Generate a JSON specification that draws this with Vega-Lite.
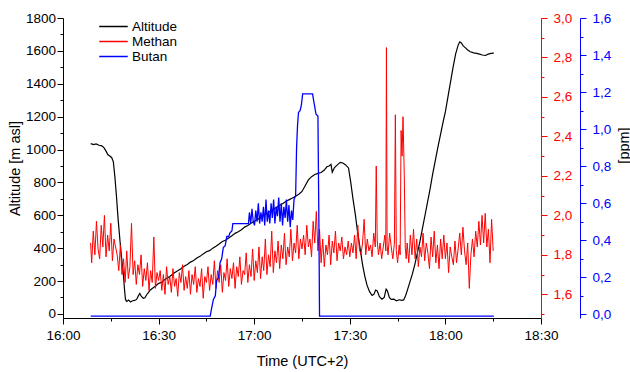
{
"$schema":"https://vega.github.io/schema/vega-lite/v6.json",
"width":478,"height":300,"autosize":"none",
"padding":{"left":63,"top":18,"right":89,"bottom":54},
"background":"white",
"config":{"font":"Liberation Sans","view":{"stroke":null},
 "axis":{"grid":false,"domainColor":"#000","tickColor":"#000","labelColor":"#000","titleColor":"#000","labelFontSize":13.5,"titleFontSize":14.5,"titleFontWeight":"normal","domainWidth":1,"tickWidth":1,"labelFlush":false,"labelOverlap":false}},
"encoding":{"x":{"field":"t","type":"temporal",
 "scale":{"domain":[{"year":1900,"month":1,"date":1,"hours":16,"minutes":0},{"year":1900,"month":1,"date":1,"hours":18,"minutes":30}]},
 "axis":{"title":"Time (UTC+2)","labelPadding":4,"titlePadding":13,
  "values":[{"year":1900,"month":1,"date":1,"hours":16,"minutes":0},{"year":1900,"month":1,"date":1,"hours":16,"minutes":15},{"year":1900,"month":1,"date":1,"hours":16,"minutes":30},{"year":1900,"month":1,"date":1,"hours":16,"minutes":45},{"year":1900,"month":1,"date":1,"hours":17,"minutes":0},{"year":1900,"month":1,"date":1,"hours":17,"minutes":15},{"year":1900,"month":1,"date":1,"hours":17,"minutes":30},{"year":1900,"month":1,"date":1,"hours":17,"minutes":45},{"year":1900,"month":1,"date":1,"hours":18,"minutes":0},{"year":1900,"month":1,"date":1,"hours":18,"minutes":15},{"year":1900,"month":1,"date":1,"hours":18,"minutes":30}],
  "labelExpr":"minutes(datum.value) % 30 == 0 ? timeFormat(datum.value, '%H:%M') : ''",
  "tickSize":{"condition":{"test":"minutes(datum.value) % 30 == 0","value":6},"value":3}}}},
"layer":[
{"data":{"values":[
{"t":"16:08:42","v":1036},{"t":"16:09:36","v":1030},{"t":"16:10:24","v":1034},{"t":"16:11:18","v":1026},{"t":"16:12:12","v":1022},{"t":"16:12:54","v":1010},{"t":"16:13:30","v":990},{"t":"16:14:06","v":968},{"t":"16:14:42","v":960},{"t":"16:15:18","v":950},{"t":"16:15:48","v":925},{"t":"16:16:18","v":830},{"t":"16:16:48","v":710},{"t":"16:17:18","v":575},{"t":"16:17:54","v":440},{"t":"16:18:24","v":340},{"t":"16:18:54","v":250},{"t":"16:19:18","v":150},{"t":"16:19:36","v":88},{"t":"16:20:00","v":76},{"t":"16:20:36","v":84},{"t":"16:21:12","v":72},{"t":"16:21:48","v":80},{"t":"16:22:30","v":82},{"t":"16:23:06","v":88},{"t":"16:23:36","v":108},{"t":"16:24:06","v":124},{"t":"16:24:36","v":106},{"t":"16:25:12","v":95},{"t":"16:25:42","v":98},{"t":"16:26:18","v":118},{"t":"16:26:48","v":130},{"t":"16:27:18","v":144},{"t":"16:28:12","v":158},{"t":"16:29:06","v":170},
{"t":"16:30:00","v":186},{"t":"16:31:00","v":192},{"t":"16:32:00","v":210},{"t":"16:33:00","v":222},{"t":"16:34:00","v":235},{"t":"16:35:00","v":250},{"t":"16:36:00","v":262},{"t":"16:37:00","v":275},{"t":"16:38:00","v":290},{"t":"16:39:00","v":300},{"t":"16:40:00","v":315},{"t":"16:41:00","v":325},{"t":"16:42:00","v":340},{"t":"16:43:00","v":350},{"t":"16:44:00","v":365},{"t":"16:45:00","v":378},{"t":"16:46:00","v":385},{"t":"16:47:00","v":400},{"t":"16:48:00","v":412},{"t":"16:49:00","v":425},{"t":"16:50:00","v":440},{"t":"16:51:00","v":448},{"t":"16:52:00","v":462},{"t":"16:53:00","v":475},{"t":"16:54:00","v":490},{"t":"16:55:00","v":500},{"t":"16:56:00","v":512},{"t":"16:57:00","v":528},{"t":"16:58:00","v":538},{"t":"16:59:00","v":552},{"t":"17:00:00","v":562},{"t":"17:01:00","v":575},{"t":"17:02:00","v":585},{"t":"17:03:00","v":600},{"t":"17:04:00","v":610},{"t":"17:05:00","v":625},{"t":"17:06:00","v":635},{"t":"17:07:00","v":648},{"t":"17:08:00","v":660},{"t":"17:09:00","v":672},{"t":"17:10:00","v":685},{"t":"17:11:00","v":695},{"t":"17:12:00","v":705},{"t":"17:13:00","v":715},{"t":"17:14:00","v":728},{"t":"17:15:00","v":745},{"t":"17:16:00","v":780},{"t":"17:17:00","v":815},{"t":"17:18:00","v":835},{"t":"17:19:00","v":848},{"t":"17:20:00","v":855},{"t":"17:21:00","v":860},{"t":"17:22:00","v":875},
{"t":"17:22:48","v":895},{"t":"17:23:30","v":900},{"t":"17:24:06","v":910},{"t":"17:24:30","v":862},{"t":"17:25:12","v":890},{"t":"17:26:00","v":905},{"t":"17:27:00","v":922},{"t":"17:27:48","v":918},{"t":"17:28:36","v":908},{"t":"17:29:36","v":888},{"t":"17:30:18","v":800},{"t":"17:31:00","v":700},{"t":"17:31:42","v":610},{"t":"17:32:30","v":490},{"t":"17:33:18","v":390},{"t":"17:34:00","v":300},{"t":"17:34:42","v":230},{"t":"17:35:24","v":175},{"t":"17:36:12","v":135},{"t":"17:37:00","v":112},{"t":"17:37:36","v":120},{"t":"17:38:06","v":145},{"t":"17:38:36","v":140},{"t":"17:39:18","v":105},{"t":"17:40:06","v":90},{"t":"17:40:48","v":100},{"t":"17:41:24","v":150},{"t":"17:41:48","v":140},{"t":"17:42:24","v":100},{"t":"17:43:00","v":88},{"t":"17:43:48","v":90},{"t":"17:44:36","v":80},{"t":"17:45:30","v":86},{"t":"17:46:18","v":82},{"t":"17:46:54","v":85},{"t":"17:47:30","v":110},{"t":"17:48:00","v":140},{"t":"17:48:48","v":190},{"t":"17:49:36","v":240},{"t":"17:50:24","v":300},{"t":"17:51:12","v":370},{"t":"17:52:00","v":440},{"t":"17:52:48","v":520},{"t":"17:53:36","v":600},{"t":"17:54:24","v":680},{"t":"17:55:12","v":760},{"t":"17:56:00","v":850},{"t":"17:56:48","v":930},{"t":"17:57:36","v":1010},{"t":"17:58:24","v":1085},{"t":"17:59:12","v":1160},{"t":"18:00:00","v":1230},{"t":"18:00:48","v":1320},{"t":"18:01:36","v":1410},{"t":"18:02:24","v":1500},{"t":"18:03:12","v":1580},{"t":"18:04:00","v":1635},{"t":"18:04:30","v":1655},{"t":"18:05:00","v":1648},{"t":"18:05:36","v":1630},{"t":"18:06:18","v":1618},{"t":"18:07:00","v":1605},{"t":"18:07:48","v":1595},{"t":"18:08:54","v":1588},{"t":"18:09:48","v":1585},{"t":"18:10:42","v":1580},{"t":"18:11:36","v":1575},{"t":"18:12:36","v":1572},{"t":"18:13:24","v":1580},{"t":"18:14:18","v":1585},{"t":"18:15:12","v":1586}
],"format":{"parse":{"t":"date:'%H:%M:%S'"}}},
"mark":{"type":"line","strokeWidth":1.2},
"encoding":{
 "y":{"field":"v","type":"quantitative","scale":{"domain":[-25,1800],"nice":false,"zero":false},
  "axis":{"orient":"left","title":"Altitude [m asl]","labelPadding":1.5,"titlePadding":3,
   "values":[0,100,200,300,400,500,600,700,800,900,1000,1100,1200,1300,1400,1500,1600,1700,1800],
   "labelExpr":"datum.value % 200 == 0 ? '' + datum.value : ''",
   "tickSize":{"condition":{"test":"datum.value % 200 == 0","value":6},"value":3}}},
 "color":{"datum":"Altitude","type":"nominal","scale":{"domain":["Altitude","Methan","Butan"],"range":["#000000","#ff0000","#0000ff"]},
  "legend":{"orient":"none","legendX":42,"legendY":0,"title":null,"symbolType":"M-1.9,0H1.9","symbolSize":225,"symbolStrokeWidth":1.5,"labelFontSize":13.5,"labelColor":"#000","rowPadding":0,"labelOffset":10}}}},
{"data":{"values":[
{"t":"16:08:40","v":1.86},{"t":"16:09:00","v":1.76},{"t":"16:09:30","v":1.92},{"t":"16:10:00","v":1.80},{"t":"16:10:30","v":1.97},{"t":"16:11:00","v":1.83},{"t":"16:11:30","v":1.78},{"t":"16:12:00","v":1.95},{"t":"16:12:30","v":1.84},{"t":"16:13:00","v":2.00},{"t":"16:13:30","v":1.79},{"t":"16:14:00","v":1.90},{"t":"16:14:30","v":1.82},{"t":"16:15:00","v":1.96},{"t":"16:15:30","v":1.77},{"t":"16:16:00","v":1.88},{"t":"16:16:30","v":1.84},
{"t":"16:17:00","v":1.80},{"t":"16:17:30","v":1.72},{"t":"16:18:00","v":1.85},{"t":"16:18:30","v":1.70},{"t":"16:19:00","v":1.78},{"t":"16:19:30","v":1.66},{"t":"16:20:00","v":1.82},{"t":"16:20:30","v":1.68},{"t":"16:21:00","v":1.74},{"t":"16:21:30","v":1.96},{"t":"16:22:00","v":1.70},{"t":"16:22:30","v":1.77},{"t":"16:23:00","v":1.65},{"t":"16:23:30","v":1.75},{"t":"16:24:00","v":1.70},{"t":"16:24:30","v":1.80},{"t":"16:25:00","v":1.64},{"t":"16:25:30","v":1.73},{"t":"16:26:00","v":1.67},{"t":"16:26:30","v":1.76},{"t":"16:27:00","v":1.62},{"t":"16:27:30","v":1.72},{"t":"16:28:00","v":1.66},{"t":"16:28:30","v":1.89},{"t":"16:29:00","v":1.63},{"t":"16:29:30","v":1.71},{"t":"16:30:00","v":1.67},
{"t":"16:30:30","v":1.72},{"t":"16:31:00","v":1.62},{"t":"16:31:30","v":1.70},{"t":"16:32:00","v":1.60},{"t":"16:32:30","v":1.74},{"t":"16:33:00","v":1.65},{"t":"16:33:30","v":1.69},{"t":"16:34:00","v":1.61},{"t":"16:34:30","v":1.73},{"t":"16:35:00","v":1.64},{"t":"16:35:30","v":1.68},{"t":"16:36:00","v":1.59},{"t":"16:36:30","v":1.71},{"t":"16:37:00","v":1.66},{"t":"16:37:30","v":1.75},{"t":"16:38:00","v":1.62},{"t":"16:38:30","v":1.69},{"t":"16:39:00","v":1.63},{"t":"16:39:30","v":1.72},{"t":"16:40:00","v":1.60},{"t":"16:40:30","v":1.70},{"t":"16:41:00","v":1.65},{"t":"16:41:30","v":1.74},{"t":"16:42:00","v":1.61},{"t":"16:42:30","v":1.68},{"t":"16:43:00","v":1.64},{"t":"16:43:30","v":1.73},{"t":"16:44:00","v":1.58},{"t":"16:44:30","v":1.69},{"t":"16:45:00","v":1.66},
{"t":"16:45:30","v":1.74},{"t":"16:46:00","v":1.62},{"t":"16:46:30","v":1.70},{"t":"16:47:00","v":1.65},{"t":"16:47:30","v":1.77},{"t":"16:48:00","v":1.63},{"t":"16:48:30","v":1.72},{"t":"16:49:00","v":1.66},{"t":"16:49:30","v":1.75},{"t":"16:50:00","v":1.61},
{"t":"16:50:30","v":1.71},{"t":"16:51:00","v":1.67},{"t":"16:51:30","v":1.78},{"t":"16:52:00","v":1.64},{"t":"16:52:30","v":1.73},{"t":"16:53:00","v":1.68},{"t":"16:53:30","v":1.76},{"t":"16:54:00","v":1.63},{"t":"16:54:30","v":1.74},{"t":"16:55:00","v":1.69},
{"t":"16:55:30","v":1.79},{"t":"16:56:00","v":1.65},{"t":"16:56:30","v":1.72},{"t":"16:57:00","v":1.70},{"t":"16:57:30","v":1.81},{"t":"16:58:00","v":1.66},{"t":"16:58:30","v":1.75},{"t":"16:59:00","v":1.69},{"t":"16:59:30","v":1.83},{"t":"17:00:00","v":1.67},
{"t":"17:00:30","v":1.77},{"t":"17:01:00","v":1.71},{"t":"17:01:30","v":1.84},{"t":"17:02:00","v":1.68},{"t":"17:02:30","v":1.79},{"t":"17:03:00","v":1.72},{"t":"17:03:30","v":1.88},{"t":"17:04:00","v":1.70},{"t":"17:04:30","v":1.80},{"t":"17:05:00","v":1.74},
{"t":"17:05:30","v":1.92},{"t":"17:06:00","v":1.71},{"t":"17:06:30","v":1.82},{"t":"17:07:00","v":1.76},{"t":"17:07:30","v":1.87},{"t":"17:08:00","v":1.73},{"t":"17:08:30","v":1.85},{"t":"17:09:00","v":1.78},{"t":"17:09:30","v":1.91},{"t":"17:10:00","v":1.75},
{"t":"17:10:30","v":1.84},{"t":"17:11:00","v":1.79},{"t":"17:11:30","v":1.93},{"t":"17:12:00","v":1.77},{"t":"17:12:30","v":1.86},{"t":"17:13:00","v":1.81},{"t":"17:13:30","v":1.95},{"t":"17:14:00","v":1.78},{"t":"17:14:30","v":1.88},{"t":"17:15:00","v":1.83},
{"t":"17:15:30","v":1.90},{"t":"17:16:00","v":1.80},{"t":"17:16:30","v":1.95},{"t":"17:17:00","v":1.84},{"t":"17:17:30","v":1.88},{"t":"17:18:00","v":1.79},{"t":"17:18:30","v":1.97},{"t":"17:19:00","v":1.86},{"t":"17:19:30","v":2.02},{"t":"17:20:00","v":1.82},
{"t":"17:20:30","v":1.93},{"t":"17:21:00","v":1.76},{"t":"17:21:30","v":1.88},{"t":"17:22:00","v":1.74},{"t":"17:22:30","v":1.85},{"t":"17:23:00","v":1.80},{"t":"17:23:30","v":1.90},{"t":"17:24:00","v":1.75},{"t":"17:24:30","v":1.87},{"t":"17:25:00","v":1.81},
{"t":"17:25:30","v":1.92},{"t":"17:26:00","v":1.77},{"t":"17:26:30","v":1.86},{"t":"17:27:00","v":1.82},{"t":"17:27:30","v":1.89},{"t":"17:28:00","v":1.78},{"t":"17:28:30","v":1.84},{"t":"17:29:00","v":1.80},{"t":"17:29:30","v":1.87},{"t":"17:30:00","v":1.79},
{"t":"17:30:30","v":1.86},{"t":"17:31:00","v":1.81},{"t":"17:31:30","v":1.90},{"t":"17:32:00","v":1.78},{"t":"17:32:30","v":1.95},{"t":"17:33:00","v":1.83},{"t":"17:33:30","v":1.80},{"t":"17:34:00","v":1.86},{"t":"17:34:30","v":1.98},{"t":"17:35:00","v":1.80},
{"t":"17:35:30","v":1.88},{"t":"17:36:00","v":1.82},{"t":"17:36:30","v":1.85},{"t":"17:37:00","v":1.79},{"t":"17:37:30","v":1.91},{"t":"17:38:00","v":1.84},
{"t":"17:38:18","v":2.25},{"t":"17:38:36","v":1.87},{"t":"17:39:00","v":1.80},{"t":"17:39:30","v":1.86},{"t":"17:40:00","v":1.78},{"t":"17:40:30","v":1.84},{"t":"17:41:00","v":1.90},{"t":"17:41:18","v":1.82},{"t":"17:41:30","v":2.85},{"t":"17:41:42","v":1.85},{"t":"17:42:00","v":1.80},{"t":"17:42:30","v":1.91},{"t":"17:43:00","v":1.84},{"t":"17:43:30","v":1.78},{"t":"17:44:00","v":1.86},{"t":"17:44:18","v":2.51},{"t":"17:44:36","v":1.82},{"t":"17:45:00","v":1.76},{"t":"17:45:30","v":1.85},{"t":"17:45:48","v":1.80},{"t":"17:46:06","v":2.43},{"t":"17:46:24","v":2.30},{"t":"17:46:42","v":2.50},{"t":"17:47:06","v":2.20},{"t":"17:47:24","v":1.84},{"t":"17:47:42","v":1.78},
{"t":"17:48:00","v":1.86},{"t":"17:48:30","v":1.76},{"t":"17:49:00","v":1.90},{"t":"17:49:30","v":1.80},{"t":"17:50:00","v":1.93},{"t":"17:50:30","v":1.78},{"t":"17:51:00","v":1.88},{"t":"17:51:30","v":1.74},{"t":"17:52:00","v":1.84},{"t":"17:52:30","v":1.79},
{"t":"17:53:00","v":1.91},{"t":"17:53:30","v":1.77},{"t":"17:54:00","v":1.86},{"t":"17:54:30","v":1.81},{"t":"17:55:00","v":1.73},{"t":"17:55:30","v":1.89},{"t":"17:56:00","v":1.79},{"t":"17:56:30","v":1.92},{"t":"17:57:00","v":1.76},{"t":"17:57:30","v":1.85},
{"t":"17:58:00","v":1.73},{"t":"17:58:30","v":1.88},{"t":"17:59:00","v":1.78},{"t":"17:59:30","v":1.90},{"t":"18:00:00","v":1.78},{"t":"18:00:30","v":1.86},{"t":"18:01:00","v":1.71},{"t":"18:01:30","v":1.84},{"t":"18:02:00","v":1.79},{"t":"18:02:30","v":1.75},
{"t":"18:03:00","v":1.87},{"t":"18:03:30","v":1.76},{"t":"18:04:00","v":1.83},{"t":"18:04:30","v":1.91},{"t":"18:05:00","v":1.80},{"t":"18:05:30","v":1.94},{"t":"18:06:00","v":1.82},{"t":"18:06:30","v":1.75},{"t":"18:07:00","v":1.86},{"t":"18:07:30","v":1.63},
{"t":"18:08:00","v":1.80},{"t":"18:08:30","v":1.88},{"t":"18:09:00","v":1.79},{"t":"18:09:30","v":1.92},{"t":"18:10:00","v":1.84},{"t":"18:10:30","v":1.97},{"t":"18:11:00","v":1.85},{"t":"18:11:30","v":2.00},{"t":"18:12:00","v":1.86},{"t":"18:12:30","v":2.01},
{"t":"18:13:00","v":1.84},{"t":"18:13:30","v":1.93},{"t":"18:14:00","v":1.76},{"t":"18:14:30","v":1.98},{"t":"18:15:00","v":1.82}
],"format":{"parse":{"t":"date:'%H:%M:%S'"}}},
"mark":{"type":"line","strokeWidth":1},
"encoding":{
 "y":{"field":"v","type":"quantitative","scale":{"domain":[1.48,3.0],"nice":false,"zero":false},
  "axis":{"orient":"right","title":null,"domainColor":"#ff0000","tickColor":"#ff0000","labelColor":"#ff0000","labelPadding":6,
   "values":[1.5,1.6,1.7,1.8,1.9,2.0,2.1,2.2,2.3,2.4,2.5,2.6,2.7,2.8,2.9,3.0],
   "labelExpr":"round(datum.value*10) % 2 == 0 ? replace(format(datum.value,'.1f'),'.',',') : ''",
   "tickSize":{"condition":{"test":"round(datum.value*10) % 2 == 0","value":6},"value":3}}},
 "color":{"datum":"Methan","type":"nominal"}}},
{"data":{"values":[
{"t":"16:08:42","v":-0.01},{"t":"16:46:12","v":-0.01},{"t":"16:46:30","v":0.02},{"t":"16:47:12","v":0.08},{"t":"16:47:48","v":0.10},{"t":"16:48:12","v":0.18},{"t":"16:48:48","v":0.20},{"t":"16:49:18","v":0.28},{"t":"16:49:48","v":0.30},{"t":"16:50:18","v":0.36},{"t":"16:50:54","v":0.37},{"t":"16:51:24","v":0.42},{"t":"16:52:00","v":0.42},{"t":"16:52:24","v":0.44},{"t":"16:53:00","v":0.45},{"t":"16:53:18","v":0.49},{"t":"16:58:12","v":0.49},
{"t":"16:58:30","v":0.55},{"t":"16:58:54","v":0.49},{"t":"16:59:18","v":0.57},{"t":"16:59:42","v":0.50},{"t":"17:00:06","v":0.48},{"t":"17:00:30","v":0.56},{"t":"17:00:54","v":0.50},{"t":"17:01:18","v":0.60},{"t":"17:01:42","v":0.49},{"t":"17:02:06","v":0.55},{"t":"17:02:30","v":0.50},{"t":"17:02:54","v":0.58},{"t":"17:03:18","v":0.48},{"t":"17:03:42","v":0.62},{"t":"17:04:06","v":0.50},{"t":"17:04:30","v":0.56},{"t":"17:04:54","v":0.49},{"t":"17:05:18","v":0.60},{"t":"17:05:42","v":0.52},{"t":"17:06:06","v":0.62},{"t":"17:06:30","v":0.49},{"t":"17:06:54","v":0.58},{"t":"17:07:18","v":0.53},{"t":"17:07:42","v":0.63},{"t":"17:08:06","v":0.50},{"t":"17:08:30","v":0.60},{"t":"17:08:54","v":0.48},{"t":"17:09:18","v":0.58},{"t":"17:09:42","v":0.52},{"t":"17:10:06","v":0.62},{"t":"17:10:30","v":0.50},{"t":"17:10:54","v":0.59},{"t":"17:11:18","v":0.47},{"t":"17:11:42","v":0.56},{"t":"17:12:06","v":0.51},{"t":"17:12:30","v":0.62},
{"t":"17:13:00","v":0.64},{"t":"17:13:18","v":0.90},{"t":"17:13:36","v":1.02},{"t":"17:13:54","v":1.09},{"t":"17:14:24","v":1.10},{"t":"17:14:48","v":1.13},{"t":"17:15:12","v":1.19},{"t":"17:18:18","v":1.19},{"t":"17:18:48","v":1.14},{"t":"17:19:24","v":1.08},{"t":"17:20:00","v":1.07},{"t":"17:20:18","v":0.50},{"t":"17:20:30","v":-0.01},{"t":"18:15:12","v":-0.01}
],"format":{"parse":{"t":"date:'%H:%M:%S'"}}},
"mark":{"type":"line","strokeWidth":1.3},
"encoding":{
 "y":{"field":"v","type":"quantitative","scale":{"domain":[-0.02,1.6],"nice":false,"zero":false},
  "axis":{"orient":"right","offset":39,"title":"[ppm]","titleAngle":270,"titleX":44,"titleY":127,"titleAlign":"center","titleBaseline":"middle","titleColor":"#000",
   "domainColor":"#0000ff","tickColor":"#0000ff","labelColor":"#0000ff","labelPadding":6,
   "values":[0,0.1,0.2,0.3,0.4,0.5,0.6,0.7,0.8,0.9,1.0,1.1,1.2,1.3,1.4,1.5,1.6],
   "labelExpr":"round(datum.value*10) % 2 == 0 ? replace(format(datum.value,'.1f'),'.',',') : ''",
   "tickSize":{"condition":{"test":"round(datum.value*10) % 2 == 0","value":6},"value":3}}},
 "color":{"datum":"Butan","type":"nominal"}}}
],
"resolve":{"scale":{"y":"independent","color":"shared"},"axis":{"y":"independent"}}
}
